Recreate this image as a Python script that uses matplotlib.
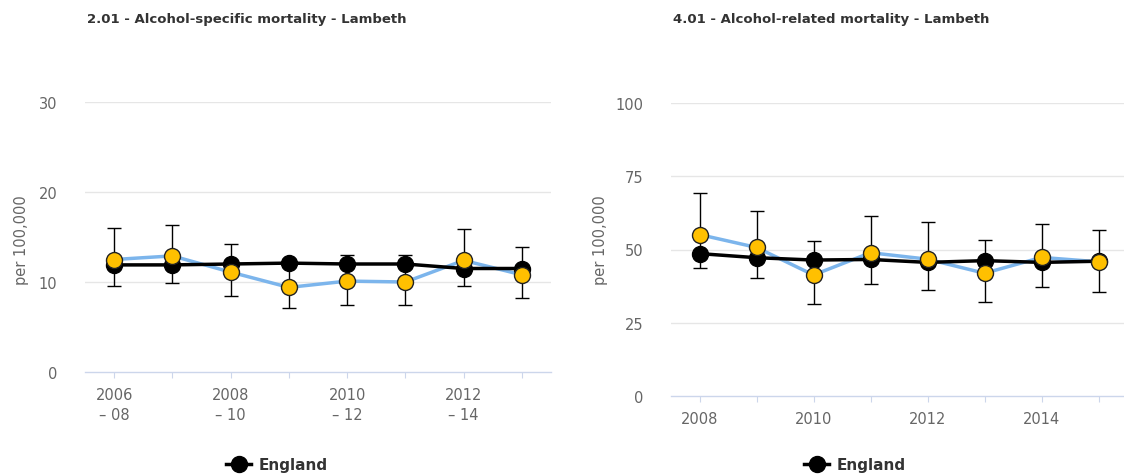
import matplotlib
matplotlib.use("Agg")
import matplotlib.pyplot as plt
from matplotlib.lines import Line2D
import numpy as np

# ---- data ----
left_title = "2.01 - Alcohol-specific mortality - Lambeth"
left_cats = ["2006\n– 08", "2007\n– 09", "2008\n– 10", "2009\n– 11",
             "2010\n– 12", "2011\n– 13", "2012\n– 14", "2013\n– 15"]
left_lambeth = [12.5, 12.9, 11.1, 9.4, 10.1, 10.0, 12.4, 10.8]
left_low = [9.55, 9.9, 8.45, 7.1, 7.45, 7.45, 9.55, 8.25]
left_high = [16.0, 16.35, 14.2, 11.9, 13.05, 13.05, 15.9, 13.9]
left_england = [11.9, 11.9, 12.0, 12.1, 12.0, 12.0, 11.5, 11.5]
left_yticks = [0, 10, 20, 30]

right_title = "4.01 - Alcohol-related mortality - Lambeth"
right_cats = ["2008", "2009", "2010", "2011", "2012", "2013", "2014", "2015"]
right_lambeth = [55.1, 50.7, 41.3, 48.9, 46.7, 41.9, 47.3, 45.8]
right_low = [43.8, 40.2, 31.3, 38.1, 36.2, 32.2, 37.3, 35.6]
right_high = [69.2, 63.1, 52.8, 61.3, 59.4, 53.4, 58.8, 56.8]
right_england = [48.6, 47.2, 46.4, 46.6, 45.6, 46.2, 45.6, 46.0]
right_yticks = [0, 25, 50, 75, 100]

ylabel = "per 100,000"
legend_label = "England"

YELLOW = "#ffc000"
BLUE = "#7cb5ec"
GRID = "#e6e6e6"
AXIS = "#ccd6eb"
TXT = "#666666"

fig = plt.figure(figsize=(11.24, 4.77), dpi=100)
W, H = 1124, 477


def ax_rect(x0, x1, ytop, ybot):
    return [x0 / W, 1 - ybot / H, (x1 - x0) / W, (ybot - ytop) / H]


def draw(ax, cats, lamb, low, high, eng, yticks, title, title_x, ylabel_x, legend_cx):
    x = np.arange(len(cats))
    lamb = np.array(lamb); low = np.array(low); high = np.array(high)
    ax.set_xlim(-0.5, len(cats) - 0.5)
    ax.set_ylim(yticks[0], yticks[-1])
    for t in yticks[1:]:
        ax.axhline(t, color=GRID, lw=1, zorder=0)
    ax.plot(x, lamb, color=BLUE, lw=2.5, zorder=2)
    ax.plot(x, eng, color="black", lw=2.5, marker="o", ms=11.5, zorder=3)
    ax.errorbar(x, lamb, yerr=[lamb - low, high - lamb], fmt="none",
                ecolor="black", elinewidth=1, capsize=5, capthick=1, zorder=4)
    ax.plot(x, lamb, ls="none", marker="o", ms=11.5, mfc=YELLOW,
            mec="#222222", mew=1, zorder=5)
    for s in ["top", "right", "left"]:
        ax.spines[s].set_visible(False)
    ax.spines["bottom"].set_color(AXIS)
    ax.spines["bottom"].set_linewidth(1)
    ax.spines["bottom"].set_zorder(1)
    ax.set_yticks(yticks)
    ax.set_yticklabels([str(t) for t in yticks])
    ax.tick_params(axis="y", length=0, pad=20, labelsize=10.5, labelcolor=TXT)
    ax.set_xticks(x)
    ax.set_xticklabels([c if i % 2 == 0 else "" for i, c in enumerate(cats)])
    ax.tick_params(axis="x", length=4, color=AXIS, pad=7, labelsize=10.5,
                   labelcolor=TXT)
    for lab in ax.get_xticklabels():
        lab.set_linespacing(1.4)
    fig.text(title_x / W, 1 - 19 / H, title, fontsize=9.5, fontweight="bold",
             color="#333333", ha="left", va="center")
    fig.text(ylabel_x / W, 1 - 240 / H, ylabel, rotation=90, fontsize=10.5,
             color=TXT, ha="center", va="center")
    h = Line2D([], [], color="black", lw=2.5, marker="o", ms=11.5)
    fig.legend([h], [legend_label], loc="center", frameon=False,
               bbox_to_anchor=(legend_cx / W, 1 - 466 / H),
               prop={"weight": "bold", "size": 11}, handlelength=1.6,
               labelcolor="#333333", handletextpad=0.5)


ax1 = fig.add_axes(ax_rect(85, 551, 103, 373))
draw(ax1, left_cats, left_lambeth, left_low, left_high, left_england,
     left_yticks, left_title, 87, 22, 277)

ax2 = fig.add_axes(ax_rect(671, 1127, 104, 397))
draw(ax2, right_cats, right_lambeth, right_low, right_high, right_england,
     right_yticks, right_title, 673, 601, 855)

fig.savefig("out.png", dpi=100)
